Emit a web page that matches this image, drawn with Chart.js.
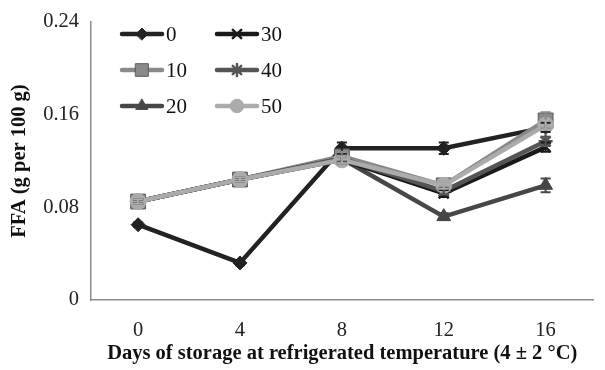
<!DOCTYPE html>
<html lang="en">
<head>
<meta charset="UTF-8">
<title>FFA during storage</title>
<style>
  html, body { margin: 0; padding: 0; background: #fff; }
  #wrap { width: 605px; height: 370px; }
</style>
</head>
<body>
<div id="wrap"><canvas id="ffa"></canvas></div>
<script src="https://cdn.jsdelivr.net/npm/chart.js@4/dist/chart.umd.min.js"></script>
<script>
// days of storage
const days = [0, 4, 8, 12, 16];
const yTicks = [0, 0.08, 0.16, 0.24];
const seriesNames = ["0", "10", "20", "30", "40", "50"];

// FFA values (g per 100 g)
const ffa0  = [0.065, 0.032, 0.131, 0.131, 0.149];
const ffa10 = [0.085, 0.104, 0.124, 0.099, 0.155];
const ffa20 = [0.085, 0.104, 0.122, 0.072, 0.099];
const ffa30 = [0.085, 0.104, 0.121, 0.092, 0.132];
const ffa40 = [0.085, 0.104, 0.122, 0.094, 0.137];
const ffa50 = [0.085, 0.104, 0.121, 0.099, 0.151];

// error bars
const err0  = [0.002, 0.002, 0.005, 0.005, 0.004];
const err10 = [0.002, 0.002, 0.004, 0.003, 0.007];
const err20 = [0.002, 0.002, 0.003, 0.003, 0.006];
const err30 = [0.002, 0.002, 0.003, 0.003, 0.004];
const err40 = [0.002, 0.002, 0.003, 0.003, 0.004];
const err50 = [0.002, 0.002, 0.003, 0.003, 0.004];

const values = [ffa0, ffa10, ffa20, ffa30, ffa40, ffa50];
const errors = [err0, err10, err20, err30, err40, err50];
const styles = [
    { color: "#222222", border: "#222222", point: "rectRot",  radius: 7 },
    { color: "#8a8a8a", border: "#5a5a5a", point: "rect",     radius: 10.5 },
    { color: "#474747", border: "#474747", point: "triangle", radius: 8 },
    { color: "#1a1a1a", border: "#1a1a1a", point: "crossRot", radius: 7 },
    { color: "#555555", border: "#555555", point: "star",     radius: 7 },
    { color: "#ababab", border: "#ababab", point: "circle",   radius: 8 },
];

const serif = "'Liberation Serif', 'DejaVu Serif', serif";

// error bars drawn through the y scale
const errorBars = {
    id: "errorBars",
    afterDatasetsDraw(chart) {
        const ctx = chart.ctx;
        const y = chart.scales.y;
        chart.data.datasets.forEach((ds, i) => {
            const meta = chart.getDatasetMeta(i);
            ctx.save();
            ctx.strokeStyle = ds.borderColor;
            ctx.lineWidth = 2;
            meta.data.forEach((pt, j) => {
                const v = ds.data[j].y, e = ds.errors[j];
                const top = y.getPixelForValue(v + e);
                const bot = y.getPixelForValue(v - e);
                ctx.beginPath();
                ctx.moveTo(pt.x, top); ctx.lineTo(pt.x, bot);
                ctx.moveTo(pt.x - 5, top); ctx.lineTo(pt.x + 5, top);
                ctx.moveTo(pt.x - 5, bot); ctx.lineTo(pt.x + 5, bot);
                ctx.stroke();
            });
            ctx.restore();
        });
    }
};

// legend inside the plot, 2 columns x 3 rows
const innerLegend = {
    id: "innerLegend",
    afterDraw(chart) {
        const ctx = chart.ctx;
        const cols = [122, 217];
        const rows = [34, 70, 106];
        chart.data.datasets.forEach((ds, i) => {
            const x = cols[Math.floor(i / 3)];
            const y = rows[i % 3];
            ctx.save();
            ctx.strokeStyle = ds.borderColor;
            ctx.lineWidth = 4.5;
            ctx.lineCap = "round";
            ctx.beginPath();
            ctx.moveTo(x, y); ctx.lineTo(x + 40, y);
            ctx.stroke();
            ctx.fillStyle = ds.pointBackgroundColor;
            ctx.strokeStyle = ds.pointBorderColor;
            ctx.lineWidth = ds.pointBorderWidth;
            Chart.helpers.drawPoint(ctx, {
                pointStyle: ds.pointStyle, radius: ds.pointRadius * 0.85,
                rotation: 0, borderWidth: ds.pointBorderWidth
            }, x + 20, y);
            ctx.fillStyle = "#111";
            ctx.font = "21px " + serif;
            ctx.textBaseline = "middle";
            ctx.fillText(ds.label, x + 44, y + 1);
            ctx.restore();
        });
    }
};

new Chart("ffa", {
    type: "line",
    data: {
        datasets: values.map((vals, i) => ({
            label: seriesNames[i],
            data: vals.map((v, j) => ({ x: days[j], y: v })),
            errors: errors[i],
            borderColor: styles[i].color,
            backgroundColor: styles[i].color,
            borderWidth: 4.5,
            pointStyle: styles[i].point,
            pointRadius: styles[i].radius,
            pointBackgroundColor: styles[i].color,
            pointBorderColor: styles[i].border,
            pointBorderWidth: (styles[i].point === "crossRot" || styles[i].point === "star") ? 2.5 : 1,
            order: 5 - i,
            fill: false,
            tension: 0,
        })),
    },
    options: {
        responsive: true,
        maintainAspectRatio: false,
        animation: false,
        layout: { padding: { top: 22, right: 2, left: 0, bottom: 0 } },
        plugins: {
            legend: { display: false },
            tooltip: { enabled: false },
        },
        scales: {
            x: {
                type: "linear",
                min: -1.85,
                max: 17.88,
                afterBuildTicks: s => { s.ticks = days.map(v => ({ value: v })); },
                afterFit: s => { s.height = 70; },
                grid: { display: false },
                border: { color: "#8c8c8c", width: 1.5 },
                ticks: {
                    padding: 10,
                    color: "#222",
                    font: { family: serif, size: 20.5 },
                    callback: v => String(v),
                },
                title: {
                    display: true,
                    text: "Days of storage at refrigerated temperature (4 \u00b1 2 \u00b0C)",
                    color: "#111",
                    font: { family: serif, size: 20.5, weight: "bold" },
                    padding: { top: 4, bottom: 4 },
                },
            },
            y: {
                min: 0,
                max: 0.24,
                afterBuildTicks: s => { s.ticks = yTicks.map(v => ({ value: v })); },
                afterFit: s => { s.width = 91; },
                grid: { display: false },
                border: { color: "#8c8c8c", width: 1.5 },
                ticks: {
                    padding: 4,
                    color: "#222",
                    font: { family: serif, size: 20.5 },
                    callback: v => String(+v.toFixed(2)),
                },
                title: {
                    display: true,
                    text: "FFA (g per 100 g)",
                    color: "#111",
                    font: { family: serif, size: 20.5, weight: "bold" },
                    padding: { top: 7, bottom: 4 },
                },
            },
        },
    },
    plugins: [errorBars, innerLegend],
});
</script>
</body>
</html>
